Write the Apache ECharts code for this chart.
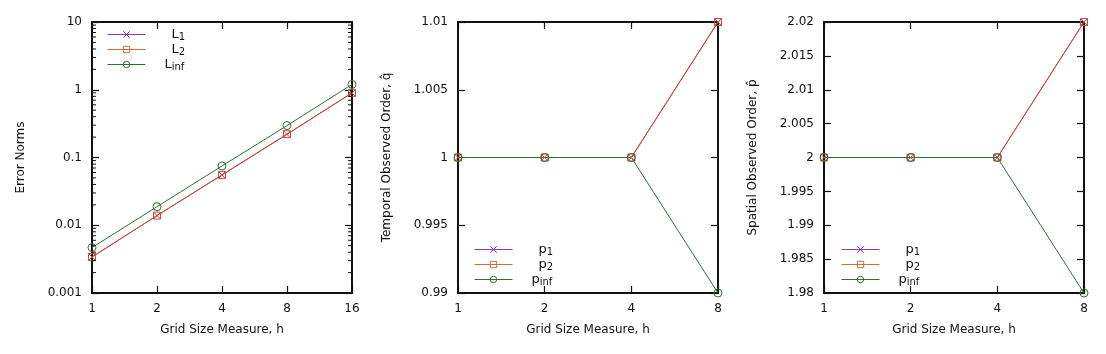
<!DOCTYPE html>
<html>
<head>
<meta charset="utf-8">
<script src="https://cdn.jsdelivr.net/npm/echarts@6/dist/echarts.min.js"></script>
<style>
html,body{margin:0;padding:0;background:#fff;}
#chart{width:1106px;height:354px;}
</style>
</head>
<body>
<div id="chart"></div>
<script>
// ---------- data ----------
const hError = [1, 2, 4, 8, 16];
const errL1 = [0.0034, 0.0139, 0.0552, 0.220, 0.895];
const errL2 = [0.0034, 0.0139, 0.0553, 0.221, 0.900];
const errLinf = [0.00468, 0.0188, 0.075, 0.296, 1.20];

const hOrder = [1, 2, 4, 8];
const tempP1 = [1, 1, 1, 1.01];
const tempP2 = [1, 1, 1, 1.01];
const tempPinf = [1, 1, 1, 0.99];
const spatP1 = [2, 2, 2, 2.02];
const spatP2 = [2, 2, 2, 2.02];
const spatPinf = [2, 2, 2, 1.98];

const errMinorTicks = [0.002,0.003,0.004,0.005,0.006,0.007,0.008,0.009,
  0.02,0.03,0.04,0.05,0.06,0.07,0.08,0.09,
  0.2,0.3,0.4,0.5,0.6,0.7,0.8,0.9,
  2,3,4,5,6,7,8,9];

const xTitle = 'Grid Size Measure, h';
const yTitles = ['Error Norms', 'Temporal Observed Order, q\u0302', 'Spatial Observed Order, p\u0302'];

// ---------- styles ----------
const FONT = 'DejaVu Sans';
const BORDER = '#111';
const C_RED = '#c84646';
const C_PURPLE = '#9432c0';
const C_ORANGE = '#c8703a';
const C_GREEN = '#2f6f2f';
const X_PATH = 'path://M0,0L10,10M10,0L0,10';

const gridLefts = [92, 458, 824];
const grids = gridLefts.map(l => ({left: l, top: 22, width: 260, height: 271}));

function numFmt(v) { return String(parseFloat(Number(v).toPrecision(6))); }

function xAxes(gi, maxV) {
  const base = {
    type: 'log', logBase: 2, min: 1, max: maxV, gridIndex: gi,
    axisLine: {show: true, onZero: false, lineStyle: {color: BORDER, width: 2}},
    axisTick: {show: true, inside: true, length: 7, lineStyle: {color: BORDER, width: 1.2}},
    splitLine: {show: false}, minorTick: {show: false}
  };
  return [
    Object.assign({}, base, {position: 'bottom',
      axisLabel: {show: true, color: '#111', fontFamily: FONT, fontSize: 12, margin: 10, formatter: numFmt},
      name: xTitle, nameLocation: 'middle', nameGap: 31,
      nameTextStyle: {color: '#111', fontFamily: FONT, fontSize: 12}}),
    Object.assign({}, base, {position: 'top', axisLabel: {show: false}})
  ];
}

function yAxes(gi, opts) {
  const base = Object.assign({
    gridIndex: gi,
    axisLine: {show: true, onZero: false, lineStyle: {color: BORDER, width: 2}},
    axisTick: {show: true, inside: true, length: 7, lineStyle: {color: BORDER, width: 1.2}},
    splitLine: {show: false}
  }, opts);
  return [
    Object.assign({}, base, {position: 'left',
      axisLabel: {show: true, color: '#111', fontFamily: FONT, fontSize: 12, margin: 10, formatter: numFmt},
      name: yTitles[gi], nameLocation: 'middle', nameGap: 65, nameRotate: 90,
      nameTextStyle: {color: '#111', fontFamily: FONT, fontSize: 12}}),
    Object.assign({}, base, {position: 'right', axisLabel: {show: false}})
  ];
}

function mkSeries(name, xs, ys, gi, symbol, size, color) {
  return {
    name: name, type: 'line', xAxisIndex: gi * 2, yAxisIndex: gi * 2,
    data: xs.map((x, i) => [x, ys[i]]),
    symbol: symbol, symbolSize: size, showSymbol: true,
    lineStyle: {color: color, width: 1},
    itemStyle: {color: 'rgba(0,0,0,0)', borderColor: color, borderWidth: 1},
    emphasis: {disabled: true}, animation: false, clip: false
  };
}

function legendItem(name, color) {
  return {name: name,
    itemStyle: {color: 'rgba(0,0,0,0)', borderColor: color, borderWidth: 1},
    lineStyle: {color: color, width: 1}};
}

const richStyle = {
  b: {fontFamily: FONT, fontSize: 13, color: '#111', lineHeight: 15},
  s: {fontFamily: FONT, fontSize: 10, color: '#111', padding: [5, 0, 0, 0], lineHeight: 15},
  padA: {width: 21}, padB: {width: 14}
};

function mkLegend(left, top, names, labels) {
  const map = {};
  names.forEach((n, i) => map[n] = labels[i]);
  return {
    orient: 'vertical', left: left, top: top, itemWidth: 38, itemHeight: 8, itemGap: 0,
    padding: 0, selectedMode: false,
    data: [legendItem(names[0], C_PURPLE), legendItem(names[1], C_ORANGE), legendItem(names[2], C_GREEN)],
    formatter: n => map[n],
    textStyle: {fontFamily: FONT, fontSize: 13, color: '#111', rich: richStyle}
  };
}

const option = {
  backgroundColor: '#fff',
  animation: false,
  grid: grids,
  xAxis: [].concat(xAxes(0, 16), xAxes(1, 8), xAxes(2, 8)),
  yAxis: [].concat(
    yAxes(0, {type: 'log', logBase: 10, min: 0.001, max: 10}),
    yAxes(1, {type: 'value', min: 0.99, max: 1.01, interval: 0.005}),
    yAxes(2, {type: 'value', min: 1.98, max: 2.02, interval: 0.005})
  ),
  legend: [
    mkLegend(107, 27, ['L1', 'L2', 'Linf'], ['{padA|}{b|L}{s|1}', '{padA|}{b|L}{s|2}', '{padB|}{b|L}{s|inf}']),
    mkLegend(474, 242, ['tp1', 'tp2', 'tpinf'], ['{padA|}{b|p}{s|1}', '{padA|}{b|p}{s|2}', '{padB|}{b|p}{s|inf}']),
    mkLegend(841, 242, ['sp1', 'sp2', 'spinf'], ['{padA|}{b|p}{s|1}', '{padA|}{b|p}{s|2}', '{padB|}{b|p}{s|inf}'])
  ],
  series: [
    mkSeries('L1', hError, errL1, 0, X_PATH, 7, C_RED),
    mkSeries('L2', hError, errL2, 0, 'rect', 7, C_RED),
    mkSeries('Linf', hError, errLinf, 0, 'circle', 8, C_GREEN),
    mkSeries('tp1', hOrder, tempP1, 1, X_PATH, 7, C_RED),
    mkSeries('tp2', hOrder, tempP2, 1, 'rect', 7, C_RED),
    mkSeries('tpinf', hOrder, tempPinf, 1, 'circle', 8, C_GREEN),
    mkSeries('sp1', hOrder, spatP1, 2, X_PATH, 7, C_RED),
    mkSeries('sp2', hOrder, spatP2, 2, 'rect', 7, C_RED),
    mkSeries('spinf', hOrder, spatPinf, 2, 'circle', 8, C_GREEN),
    {
      type: 'custom', xAxisIndex: 0, yAxisIndex: 0, silent: true, z: 5, animation: false,
      data: errMinorTicks.map(v => [hError[0], v]),
      renderItem: function (params, api) {
        const v = api.value(1);
        const pL = api.coord([hError[0], v]);
        const pR = api.coord([hError[hError.length - 1], v]);
        return {type: 'group', children: [
          {type: 'line', shape: {x1: pL[0], y1: pL[1], x2: pL[0] + 4, y2: pL[1]}, style: {stroke: BORDER, lineWidth: 1}},
          {type: 'line', shape: {x1: pR[0], y1: pR[1], x2: pR[0] - 4, y2: pR[1]}, style: {stroke: BORDER, lineWidth: 1}}
        ]};
      }
    }
  ]
};

const chart = echarts.init(document.getElementById('chart'), null, {renderer: 'canvas'});
chart.setOption(option);
</script>
</body>
</html>
